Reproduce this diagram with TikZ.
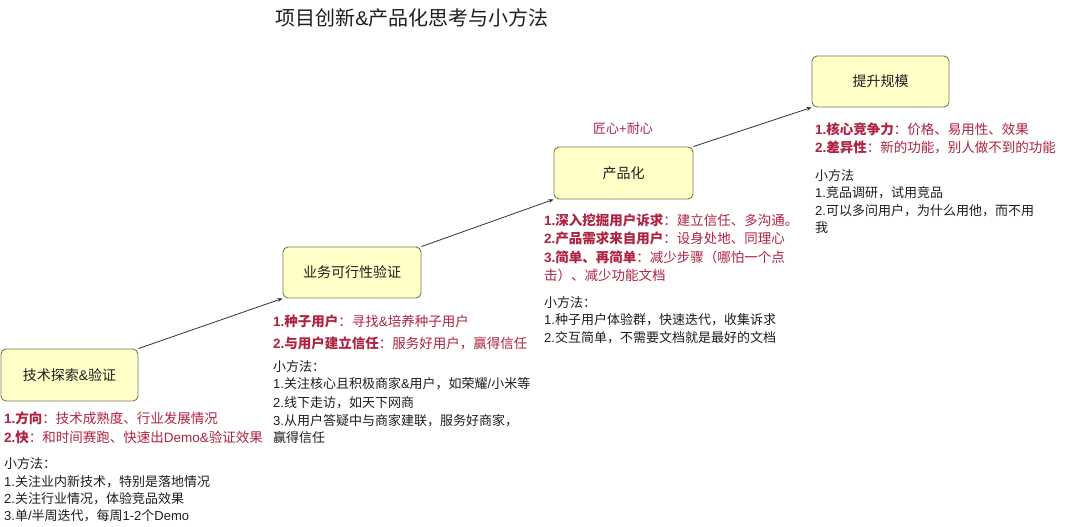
\documentclass[tikz,border=0pt]{standalone}
\usepackage{fontspec}
\setmainfont{Noto Sans CJK SC}
\newfontfamily\latfont{Liberation Sans}
\newcommand{\lat}[1]{{\latfont #1}}
\usetikzlibrary{arrows.meta}
\definecolor{txt}{RGB}{30,30,30}
\definecolor{redt}{RGB}{175,35,65}
\definecolor{boxfill}{RGB}{255,255,200}
\definecolor{boxline}{RGB}{120,120,85}
\definecolor{conncol}{RGB}{50,50,50}
\newcommand{\bodyfont}{\fontsize{13}{16}\selectfont}
\newcommand{\redfont}{\fontsize{13.5}{16}\selectfont}
\begin{document}
\begin{tikzpicture}[x=1pt,y=-1pt,
  stagebox/.style={draw=boxline, fill=boxfill, line width=0.9pt, rounded corners=5pt,
    minimum width=138pt, minimum height=51pt, inner sep=0pt, text=txt,
    font=\fontsize{14}{16}\selectfont},
  ln/.style={anchor=base west, inner sep=0pt, text=txt, font=\bodyfont},
  rl/.style={ln, text=redt, font=\redfont},
  conn/.style={draw=conncol, line width=0.8pt, -{Stealth[length=5pt,width=4pt]}}]
\useasboundingbox[fill=white] (0,0) rectangle (1080,527);

% title
\node[text=txt, font=\fontsize{20}{24}\selectfont, inner sep=0pt] (title) at (412,18) {项目创新\lat{\&}产品化思考与小方法};

% boxes
\node[stagebox, minimum width=137pt, minimum height=52pt] (b1) at (69.5,375) {技术探索\lat{\&}验证};
\node[stagebox] (b2) at (352,272.5) {业务可行性验证};
\node[stagebox, minimum width=139pt, minimum height=52pt] (b3) at (623.5,173) {产品化};
\node[stagebox, minimum width=137pt] (b4) at (880.5,81.5) {提升规模};

% connectors
\draw[conn] (b1.north east) -- (b2.south west);
\draw[conn] (b2.north east) -- (b3.south west);
\draw[conn] (b3.north east) -- (b4.south west);

% stage 1
\node[rl] (a1) at (4,423) {\textbf{\lat{1.}方向}：技术成熟度、行业发展情况};
\node[rl] (a2) at (4,442) {\textbf{\lat{2.}快}：和时间赛跑、快速出\lat{Demo\&}验证效果};
\node[ln] (a3) at (4,468) {小方法：};
\node[ln] (a4) at (4,486) {\lat{1.}关注业内新技术，特别是落地情况};
\node[ln] (a5) at (4,503) {\lat{2.}关注行业情况，体验竞品效果};
\node[ln] (a6) at (4,520) {\lat{3.}单\lat{/}半周迭代，每周\lat{1-2}个\lat{Demo}};

% stage 2
\node[rl] (c1) at (273,326) {\textbf{\lat{1.}种子用户}：寻找\lat{\&}培养种子用户};
\node[rl] (c2) at (273,348) {\textbf{\lat{2.}与用户建立信任}：服务好用户，赢得信任};
\node[ln] (c3) at (273,371) {小方法：};
\node[ln] (c4) at (273,388) {\lat{1.}关注核心且积极商家\lat{\&}用户，如荣耀\lat{/}小米等};
\node[ln] (c5) at (273,407) {\lat{2.}线下走访，如天下网商};
\node[ln] (c6) at (273,425) {\lat{3.}从用户答疑中与商家建联，服务好商家，};
\node[ln] (c7) at (273,442) {赢得信任};

% stage 3
\node[text=redt, font=\bodyfont, inner sep=0pt] (d0) at (623,129) {匠心\lat{+}耐心};
\node[rl] (d1) at (544,225) {\textbf{\lat{1.}深入挖掘用户诉求}：建立信任、多沟通。};
\node[rl] (d2) at (544,243) {\textbf{\lat{2.}产品需求来自用户}：设身处地、同理心};
\node[rl] (d3) at (544,262) {\textbf{\lat{3.}简单、再简单}：减少步骤（哪怕一个点};
\node[rl] (d4) at (544,280) {击）、减少功能文档};
\node[ln] (d5) at (544,307) {小方法：};
\node[ln] (d6) at (544,324) {\lat{1.}种子用户体验群，快速迭代，收集诉求};
\node[ln] (d7) at (544,342) {\lat{2.}交互简单，不需要文档就是最好的文档};

% stage 4
\node[rl] (e1) at (815,134) {\textbf{\lat{1.}核心竞争力}：价格、易用性、效果};
\node[rl] (e2) at (815,153) {\textbf{\lat{2.}差异性}：新的功能，别人做不到的功能};
\node[ln] (e3) at (815,180) {小方法};
\node[ln] (e4) at (815,197) {\lat{1.}竞品调研，试用竞品};
\node[ln] (e5) at (815,215) {\lat{2.}可以多问用户，为什么用他，而不用};
\node[ln] (e6) at (815,232) {我};
\end{tikzpicture}
\end{document}
